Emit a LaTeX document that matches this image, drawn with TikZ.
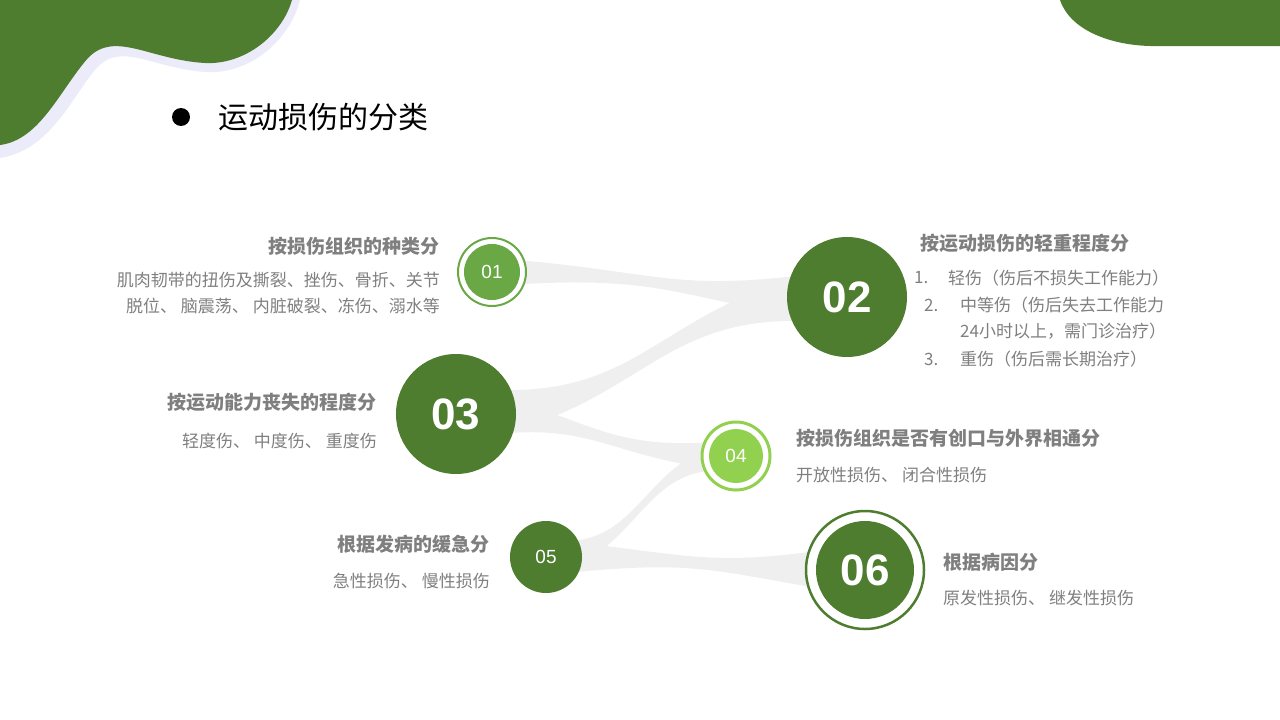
\documentclass[tikz,border=0pt]{standalone}
\usepackage{fontspec}
\setmainfont{Liberation Sans}
\newfontfamily\cjk{Noto Sans CJK SC}
\definecolor{dg}{HTML}{4E7D2F}
\definecolor{mg}{HTML}{6AA846}
\definecolor{lg}{HTML}{92D050}
\definecolor{tx}{HTML}{7F7F7F}
\definecolor{bd}{HTML}{EFEFEF}
\definecolor{lav}{HTML}{ECEBFA}
\newcommand{\myband}[6]{%
 \pgfmathsetmacro\xm{(#1+#4)/2}%
 \fill[bd] (#1,#2-#3) .. controls (\xm,#2-1) and (\xm,#5-1) .. (#4,#5-#6)
  -- (#4,#5+#6) .. controls (\xm,#5+1) and (\xm,#2+1) .. (#1,#2+#3) -- cycle;}
\tikzset{
 head/.style={font=\cjk\bfseries\fontsize{19}{22}\selectfont,text=tx,inner sep=0},
 body/.style={font=\cjk\fontsize{17}{20}\selectfont,text=tx,inner sep=0},
 num/.style={font=\bfseries\fontsize{44}{44}\selectfont,text=white},
 snum/.style={font=\fontsize{19}{19}\selectfont,text=white}}
\begin{document}
\begin{tikzpicture}[x=1pt,y=-1pt]
\useasboundingbox (0,0) rectangle (1280,720);
% blobs
\fill[lav] (0,0) -- (300,0) .. controls (290,40) and (250,75) .. (205,72) .. controls (150,68) and (120,40) .. (95,70) .. controls (70,100) and (50,150) .. (0,158) -- cycle;
\fill[dg] (0,0) -- (292,0) .. controls (282,35) and (245,65) .. (205,63) .. controls (150,60) and (115,30) .. (88,58) .. controls (60,90) and (40,140) .. (0,145) -- cycle;
\fill[dg] (1060,0) .. controls (1070,30) and (1110,45) .. (1150,46) -- (1280,46) -- (1280,0) -- cycle;
% title
\fill[black] (181,117) circle (9);
\node[anchor=west,font=\cjk\fontsize{30}{34}\selectfont,inner sep=0] (title) at (218,117) {运动损伤的分类};
% bands
\myband{492}{272}{14}{847}{297}{28}
\myband{847}{297}{28}{456}{414}{28}
\myband{456}{414}{26}{736}{456}{16}
\myband{736}{456}{16}{546}{557}{18}
\myband{546}{557}{18}{865}{570}{26}
% circles
\draw[mg,line width=2pt,fill=white] (492,272) circle (34);
\node[circle,fill=mg,minimum size=56pt,snum] (c1) at (492,272) {01};
\node[circle,fill=dg,minimum size=120pt,num] (c2) at (847,297) {02};
\node[circle,fill=dg,minimum size=120pt,num] (c3) at (456,414) {03};
\draw[lg,line width=3pt,fill=white] (736,456) circle (34);
\node[circle,fill=lg,minimum size=54pt,snum] (c4) at (736,456) {04};
\node[circle,fill=dg,minimum size=72pt,snum] (c5) at (546,557) {05};
\draw[dg,line width=2.5pt,fill=white] (865,570) circle (59);
\node[circle,fill=dg,minimum size=98pt,num] (c6) at (865,570) {06};
% texts
\node[head,anchor=east] (h1) at (440,246) {按损伤组织的种类分};
\node[body,anchor=east] (b1a) at (440,280) {肌肉韧带的扭伤及撕裂、挫伤、骨折、关节};
\node[body,anchor=east] (b1b) at (440,306) {脱位、 脑震荡、 内脏破裂、冻伤、溺水等};
\node[head,anchor=east] (h3) at (377,402) {按运动能力丧失的程度分};
\node[body,anchor=east] (b3) at (377,441) {轻度伤、 中度伤、 重度伤};
\node[head,anchor=east] (h5) at (490,544) {根据发病的缓急分};
\node[body,anchor=east] (b5) at (490,581) {急性损伤、 慢性损伤};
\node[head,anchor=west] (h2) at (920,243) {按运动损伤的轻重程度分};
\node[body,anchor=west] (l1n) at (914,278) {1.};
\node[body,anchor=west] (l1) at (948,278) {轻伤（伤后不损失工作能力）};
\node[body,anchor=west] (l2n) at (924,305) {2.};
\node[body,anchor=west] (l2) at (960,305) {中等伤（伤后失去工作能力};
\node[body,anchor=west] (l2b) at (960,331) {24小时以上，需门诊治疗）};
\node[body,anchor=west] (l3n) at (924,359) {3.};
\node[body,anchor=west] (l3) at (960,359) {重伤（伤后需长期治疗）};
\node[head,anchor=west] (h4) at (796,438) {按损伤组织是否有创口与外界相通分};
\node[body,anchor=west] (b4) at (796,475) {开放性损伤、 闭合性损伤};
\node[head,anchor=west] (h6) at (943,562) {根据病因分};
\node[body,anchor=west] (b6) at (943,598) {原发性损伤、 继发性损伤};
\end{tikzpicture}
\end{document}
